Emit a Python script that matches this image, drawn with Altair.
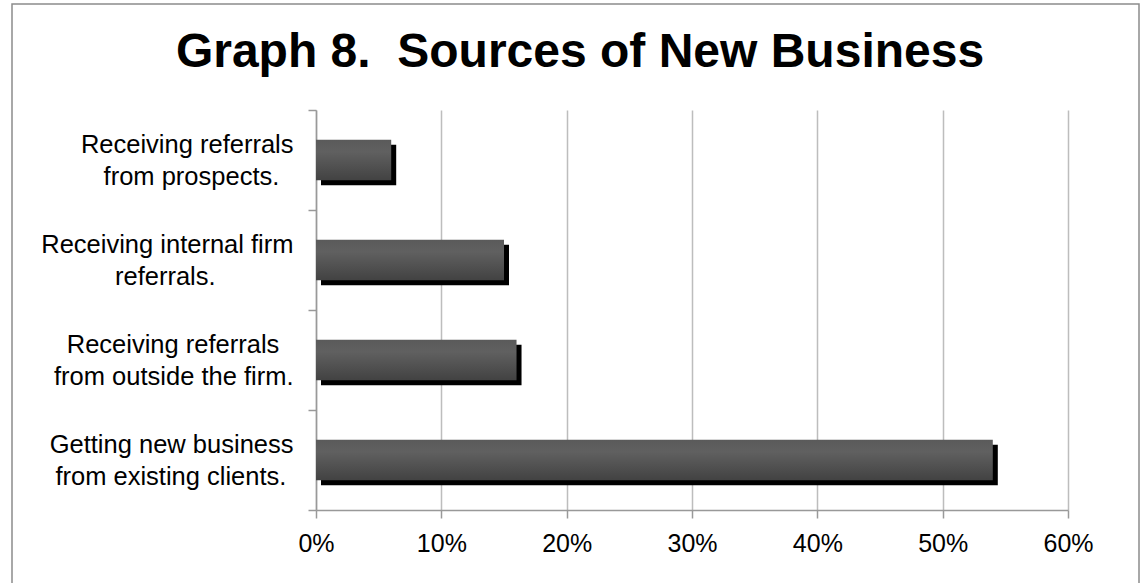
import json
import altair as alt
import pandas as pd

# ---- data ----
categories = [
    "Receiving referrals from prospects.",
    "Receiving internal firm referrals.",
    "Receiving referrals from outside the firm.",
    "Getting new business from existing clients.",
]
shares = [0.06, 0.15, 0.16, 0.54]
x_ticks = [0, 0.1, 0.2, 0.3, 0.4, 0.5, 0.6]
title_text = "Graph 8.\u00a0 Sources of New Business"

# two-line axis labels (lines centred inside a right-aligned block)
NB = "\u00a0"
END = "\u200b"
label_lines = {
    categories[0]: ["Receiving referrals", "from prospects." + NB * 2 + END],
    categories[1]: ["Receiving internal firm", "referrals." + NB * 11 + END],
    categories[2]: ["Receiving referrals" + NB * 2 + END, "from outside the firm."],
    categories[3]: ["Getting new business", "from existing clients." + NB + END],
}
expr = "datum.label"
for k, v in reversed(list(label_lines.items())):
    expr = f"datum.value == {json.dumps(k)} ? {json.dumps(v, ensure_ascii=False)} : ({expr})"

df = pd.DataFrame({"cat": categories, "share": shares})

FONT = "Liberation Sans"
W, H = 752, 400
PL, PT = 316, 110

y_enc = alt.Y(
    "cat:N",
    sort=categories,
    scale=alt.Scale(paddingInner=0, paddingOuter=0),
    axis=alt.Axis(
        title=None,
        tickBand="extent",
        tickSize=8,
        tickColor="#999999",
        tickWidth=1.5,
        domainColor="#999999",
        domainWidth=1.5,
        labelFont=FONT,
        labelFontSize=25.5,
        labelColor="#000000",
        labelAlign="right",
        labelBaseline="middle",
        labelPadding=15,
        labelLineHeight=32,
        labelOffset=-16,
        labelExpr=expr,
        labelLimit=400,
        grid=False,
    ),
)

x_enc = alt.X(
    "share:Q",
    scale=alt.Scale(domain=[0, 0.6], nice=False),
    axis=alt.Axis(
        title=None,
        values=x_ticks,
        format=".0%",
        grid=True,
        gridColor="#bdbdbd",
        gridWidth=1.5,
        tickSize=8,
        tickColor="#999999",
        tickWidth=1.5,
        domainColor="#999999",
        domainWidth=1.5,
        labelFont=FONT,
        labelFontSize=25,
        labelColor="#000000",
        labelPadding=13,
        labelFlush=False,
    ),
)

gradient = alt.Gradient(
    gradient="linear",
    stops=[
        alt.GradientStop(color="#5a5a5a", offset=0),
        alt.GradientStop(color="#606060", offset=0.3),
        alt.GradientStop(color="#424242", offset=1),
    ],
    x1=0, x2=0, y1=0, y2=1,
)

BAND = alt.RelativeBandSize(0.407)

shadow = alt.Chart(df).mark_bar(
    color="#000000", height=BAND, xOffset=5, x2Offset=5, yOffset=5, y2Offset=5
).encode(x=x_enc, y=y_enc)

bars = alt.Chart(df).mark_bar(color=gradient, height=BAND).encode(x=x_enc, y=y_enc)

frame = alt.Chart(pd.DataFrame({"f": [0]})).mark_rect(
    filled=False, stroke="#8c8c8c", strokeWidth=1.5
).encode(
    x=alt.value(12 - PL), x2=alt.value(1139 - PL),
    y=alt.value(4 - PT), y2=alt.value(620 - PT),
)

title = alt.Chart(pd.DataFrame({"t": [title_text]})).mark_text(
    font=FONT, fontSize=48, fontWeight="bold", align="center",
    baseline="alphabetic", color="#000000",
).encode(text="t:N", x=alt.value(580 - PL), y=alt.value(67 - PT))

chart = alt.layer(frame, shadow, bars, title).properties(
    width=W, height=H,
    autosize=alt.AutoSizeParams(type="none"),
    padding={"left": PL, "top": PT, "right": 1147 - PL - W, "bottom": 583 - PT - H},
    background="#ffffff",
).configure_view(stroke=None)

chart.save("out.html", embed_options={"renderer": "svg", "actions": False})
